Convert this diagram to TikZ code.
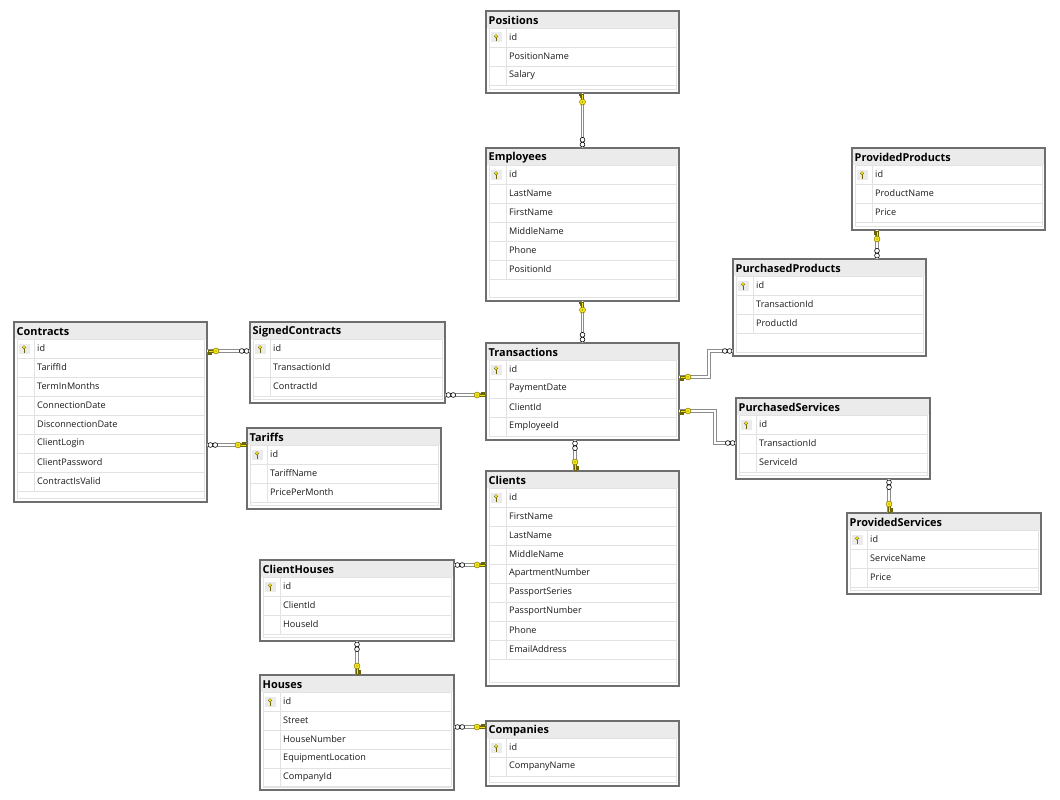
\documentclass[tikz,border=0pt]{standalone}
\usepackage{fontspec}
\setmainfont{Open Sans}
\usetikzlibrary{calc}
\definecolor{bordc}{HTML}{6E6E6E}
\definecolor{hdrc}{HTML}{EBEBEB}
\definecolor{sepc}{HTML}{E2E2E2}
\definecolor{keyc}{HTML}{F5E61A}
\definecolor{keyd}{HTML}{6B6400}
\definecolor{linec}{HTML}{8C8C8C}
\tikzset{
  x=1pt,y=-1pt,
  tbl/.style={fill=white, inner sep=0pt, outer sep=0pt, anchor=north west},
  ttl/.style={font=\bfseries\fontsize{10.9}{12}\selectfont, anchor=west, inner sep=0pt},
  fld/.style={font=\fontsize{9.1}{10}\selectfont, anchor=west, inner sep=0pt, text=black!90},
  sep/.style={draw=sepc, line width=0.6pt},
  rel/.style={draw=linec, double=white, double distance=1.6pt, line width=1pt},
  pkend/.pic={
    \filldraw[fill=keyc, draw=keyd, line width=0.4pt] (1.4,1) rectangle (2.4,3.1) (3.4,1) rectangle (4.4,2.7);
    \filldraw[fill=keyc, draw=keyd, line width=0.4pt] (0.8,-1.1) rectangle (6.5,1.1);
    \filldraw[fill=keyc, draw=keyd, line width=0.4pt] (9,0) circle (3);
    \fill[keyd] (9,0) circle (0.6);
  },
  fkend/.pic={
    \filldraw[fill=white, draw=black, line width=0.6pt] (3.4,0) circle (2.4) (8.2,0) circle (2.4);
  },
}
\newcommand\dbtable[7]{%
  \node[tbl, minimum width={#5*1pt}, minimum height={(#6-#4)*1pt}] (#1) at (#3,#4) {};
  \fill[hdrc] ({#3+0.8},{#4+0.8}) rectangle ({#3+#5-0.8},{#4+17});
  \node[ttl] (#1-t) at ({#3+2.5},{#4+9.2}) {#2};
  \draw[sep] ({#3+3},{#4+17.5}) rectangle ({#3+#5-3},{#6-3.5});
  \foreach \t [count=\i] in {#7} {
    \pgfmathsetmacro\ry{#4+17+19*(\i-1)}
    \draw[sep] ({#3+3},{\ry+19}) -- ({#3+#5-3},{\ry+19});
    \draw[sep] ({#3+20},{\ry}) -- ({#3+20},{\ry+19});
    \node[fld] (#1-\i) at ({#3+23},{\ry+9.5}) {\t};
  }
  \fill[hdrc] ({#3+5},{#4+21.5}) rectangle ({#3+16},{#4+31.5});
  \filldraw[fill=keyc, draw=keyd, line width=0.3pt] ({#3+10},{#4+27}) -- ({#3+10},{#4+30.5});
  \filldraw[fill=keyc, draw=keyd, line width=0.3pt] ({#3+10},{#4+25.3}) circle (1.8);
  \draw[bordc, line width=1.6pt] (#1.north west) rectangle (#1.south east);
}
\begin{document}
\begin{tikzpicture}
\useasboundingbox (0,0) rectangle (1060,800);
\fill[white] (0,0) rectangle (1060,800);

\dbtable{positions}{Positions}{486}{11}{193}{93}{id,PositionName,Salary}
\dbtable{employees}{Employees}{486}{148}{193}{301}{id,LastName,FirstName,MiddleName,Phone,PositionId}
\dbtable{provprod}{ProvidedProducts}{852}{148}{193}{230}{id,ProductName,Price}
\dbtable{purchprod}{PurchasedProducts}{733}{259}{193}{356}{id,TransactionId,ProductId}
\dbtable{contracts}{Contracts}{14}{322}{193}{502}{id,TariffId,TermInMonths,ConnectionDate,DisconnectionDate,ClientLogin,ClientPassword,ContractIsValid}
\dbtable{signed}{SignedContracts}{250}{322}{195}{403}{id,TransactionId,ContractId}
\dbtable{transactions}{Transactions}{486}{343}{193}{440}{id,PaymentDate,ClientId,EmployeeId}
\dbtable{purchserv}{PurchasedServices}{736}{398}{194}{479}{id,TransactionId,ServiceId}
\dbtable{tariffs}{Tariffs}{247}{428}{194}{509}{id,TariffName,PricePerMonth}
\dbtable{clients}{Clients}{486}{471}{193}{686}{id,FirstName,LastName,MiddleName,ApartmentNumber,PassportSeries,PassportNumber,Phone,EmailAddress}
\dbtable{provserv}{ProvidedServices}{847}{513}{194}{594}{id,ServiceName,Price}
\dbtable{clienthouses}{ClientHouses}{260}{560}{194}{641}{id,ClientId,HouseId}
\dbtable{houses}{Houses}{260}{675}{194}{790}{id,Street,HouseNumber,EquipmentLocation,CompanyId}
\dbtable{companies}{Companies}{486}{721}{193}{786}{id,CompanyName}

% connector end points
\coordinate (c3a) at ($(transactions.south)+(-7.5,0)$);
\coordinate (c3b) at (clients.north -| c3a);
\coordinate (c4a) at ($(signed.north east)+(0,73)$);
\coordinate (c4b) at (transactions.west |- c4a);
\coordinate (c5a) at ($(contracts.north east)+(0,29)$);
\coordinate (c5b) at (signed.west |- c5a);
\coordinate (c6a) at ($(contracts.north east)+(0,123)$);
\coordinate (c6b) at (tariffs.west |- c6a);
\coordinate (c7a) at ($(transactions.north east)+(0,34)$);
\coordinate (c7b) at ($(purchprod.north west)+(0,92)$);
\coordinate (c7c) at ($(c7b)+(-24,0)$);
\coordinate (c8a) at ($(transactions.north east)+(0,68)$);
\coordinate (c8b) at ($(purchserv.north west)+(0,45)$);
\coordinate (c8c) at ($(c8b)+(-21,0)$);
\coordinate (c9a) at ($(provprod.south west)+(25,0)$);
\coordinate (c9b) at (purchprod.north -| c9a);
\coordinate (c10a) at ($(purchserv.south west)+(153,0)$);
\coordinate (c10b) at (provserv.north -| c10a);
\coordinate (c11a) at ($(clienthouses.north east)+(0,5)$);
\coordinate (c11b) at (clients.west |- c11a);
\coordinate (c13a) at ($(houses.north east)+(0,52)$);
\coordinate (c13b) at (companies.west |- c13a);

% connector lines
\draw[rel] (positions.south) -- (employees.north);
\draw[rel] (employees.south) -- (transactions.north);
\draw[rel] (c3a) -- (c3b);
\draw[rel] (c4a) -- (c4b);
\draw[rel] (c5a) -- (c5b);
\draw[rel] (c6a) -- (c6b);
\draw[rel] (c7a) -| (c7c) -- (c7b);
\draw[rel] (c8a) -| (c8c) -- (c8b);
\draw[rel] (c9a) -- (c9b);
\draw[rel] (c10a) -- (c10b);
\draw[rel] (c11a) -- (c11b);
\draw[rel] (clienthouses.south) -- (houses.north);
\draw[rel] (c13a) -- (c13b);

% ends
\pic[rotate=-90] at (positions.south) {pkend};
\pic[rotate=90] at (employees.north) {fkend};
\pic[rotate=-90] at (employees.south) {pkend};
\pic[rotate=90] at (transactions.north) {fkend};
\pic[rotate=-90] at (c3a) {fkend};
\pic[rotate=90] at (c3b) {pkend};
\pic at (c4a) {fkend};
\pic[rotate=180] at (c4b) {pkend};
\pic at (c5a) {pkend};
\pic[rotate=180] at (c5b) {fkend};
\pic at (c6a) {fkend};
\pic[rotate=180] at (c6b) {pkend};
\pic at (c7a) {pkend};
\pic[rotate=180] at (c7b) {fkend};
\pic at (c8a) {pkend};
\pic[rotate=180] at (c8b) {fkend};
\pic[rotate=-90] at (c9a) {pkend};
\pic[rotate=90] at (c9b) {fkend};
\pic[rotate=-90] at (c10a) {fkend};
\pic[rotate=90] at (c10b) {pkend};
\pic at (c11a) {fkend};
\pic[rotate=180] at (c11b) {pkend};
\pic[rotate=-90] at (clienthouses.south) {fkend};
\pic[rotate=90] at (houses.north) {pkend};
\pic at (c13a) {fkend};
\pic[rotate=180] at (c13b) {pkend};
\end{tikzpicture}
\end{document}
